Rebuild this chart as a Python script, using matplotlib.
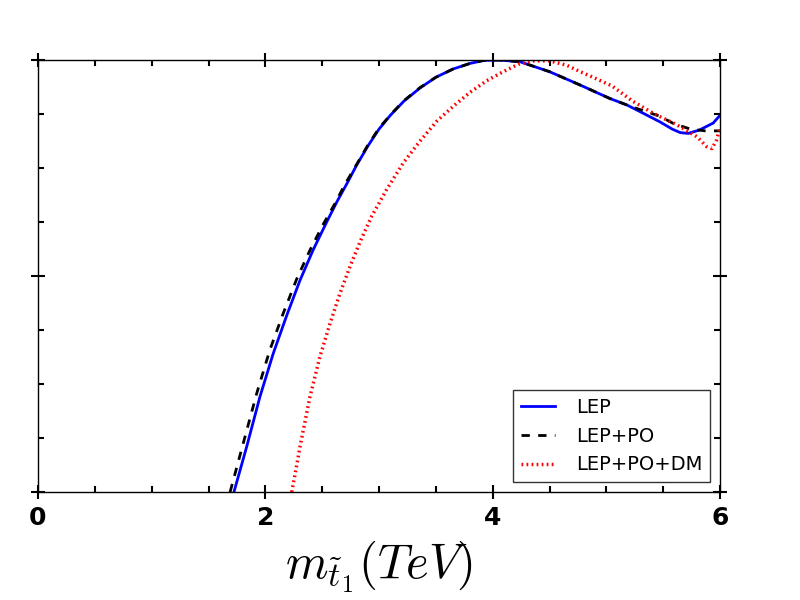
import numpy as np
import matplotlib
matplotlib.use("Agg")
import matplotlib.pyplot as plt
from matplotlib.ticker import MultipleLocator, NullFormatter

plt.rcParams['mathtext.fontset'] = 'cm'

# LEP
lep_x = [1.724, 1.836, 1.953, 2.07, 2.19, 2.305, 2.42, 2.54, 2.63, 2.72, 2.80, 2.90,
         3.00, 3.10, 3.22, 3.36, 3.50, 3.65, 3.80, 3.92, 4.05, 4.24, 4.50, 4.77,
         5.03, 5.18, 5.30, 5.47, 5.58, 5.65, 5.72, 5.82, 5.94, 6.0]
lep_y = [0.0, 0.105, 0.221, 0.321, 0.41, 0.49, 0.56, 0.625, 0.672, 0.715, 0.755, 0.80,
         0.84, 0.872, 0.905, 0.935, 0.960, 0.979, 0.992, 0.999, 1.0, 0.996, 0.973, 0.942,
         0.911, 0.896, 0.880, 0.857, 0.840, 0.832, 0.830, 0.838, 0.854, 0.872]

# LEP+PO
po_x = [1.69, 1.806, 1.924, 2.04, 2.158, 2.276, 2.393, 2.51, 2.613, 2.70, 2.80, 2.90,
        3.00, 3.10, 3.22, 3.36, 3.50, 3.65, 3.80, 3.92, 4.05, 4.24, 4.50, 4.77,
        5.03, 5.18, 5.32, 5.47, 5.59, 5.74, 5.87, 6.0]
po_y = [0.0, 0.113, 0.228, 0.329, 0.414, 0.493, 0.56, 0.62, 0.668, 0.712, 0.757, 0.802,
        0.842, 0.873, 0.906, 0.936, 0.960, 0.979, 0.992, 0.999, 1.0, 0.996, 0.973, 0.942,
        0.911, 0.896, 0.883, 0.870, 0.853, 0.840, 0.836, 0.836]

# LEP+PO+DM
dm_x = [2.232, 2.268, 2.305, 2.393, 2.48, 2.569, 2.657, 2.745, 2.833, 2.935, 3.067,
        3.214, 3.36, 3.507, 3.654, 3.80, 3.947, 4.094, 4.225, 4.35, 4.50, 4.65, 4.77,
        4.90, 5.05, 5.23, 5.41, 5.62, 5.80, 5.88, 5.93, 5.97, 6.0]
dm_y = [0.0, 0.05, 0.105, 0.221, 0.313, 0.39, 0.46, 0.522, 0.579, 0.638, 0.70,
        0.762, 0.812, 0.858, 0.893, 0.925, 0.952, 0.973, 0.99, 0.998, 0.998, 0.988, 0.973,
        0.958, 0.940, 0.905, 0.877, 0.85, 0.822, 0.800, 0.795, 0.815, 0.845]

fig = plt.figure(figsize=(8, 6), dpi=100)
fig.subplots_adjust(left=0.0475, right=0.9, bottom=0.18, top=0.9)
ax = fig.add_subplot(111)

ax.plot(lep_x, lep_y, color='b', lw=2, label='LEP')
ax.plot(po_x, po_y, color='k', lw=2, ls=(0, (3, 3)), label='LEP+PO')
ax.plot(dm_x, dm_y, color='r', lw=2.5, ls=(0, (0.5, 0.95)), label='LEP+PO+DM')

ax.set_xlim(0, 6)
ax.set_ylim(0, 1)
ax.set_xticks([0, 2, 4, 6])
ax.xaxis.set_minor_locator(MultipleLocator(0.5))
ax.set_yticks([0, 0.5, 1])
ax.yaxis.set_minor_locator(MultipleLocator(0.125))
ax.yaxis.set_major_formatter(NullFormatter())

ax.tick_params(which='major', direction='inout', length=9.5, width=1.5,
               top=True, right=True, labelsize=18, pad=5)
ax.tick_params(which='minor', direction='in', length=4.5, width=1.5,
               top=True, right=True)
for lbl in ax.get_xticklabels():
    lbl.set_fontweight('bold')
for s in ax.spines.values():
    s.set_linewidth(1.0)

ax.set_xlabel(r'$m_{\tilde{t}_1} (TeV)$', fontsize=35, labelpad=7)

leg = ax.legend(loc='lower right', fontsize=14, handlelength=1.75,
                handletextpad=1.1, fancybox=False)
leg.get_frame().set_edgecolor('k')
leg.get_frame().set_linewidth(1.0)

fig.savefig('out.png', dpi=100)
